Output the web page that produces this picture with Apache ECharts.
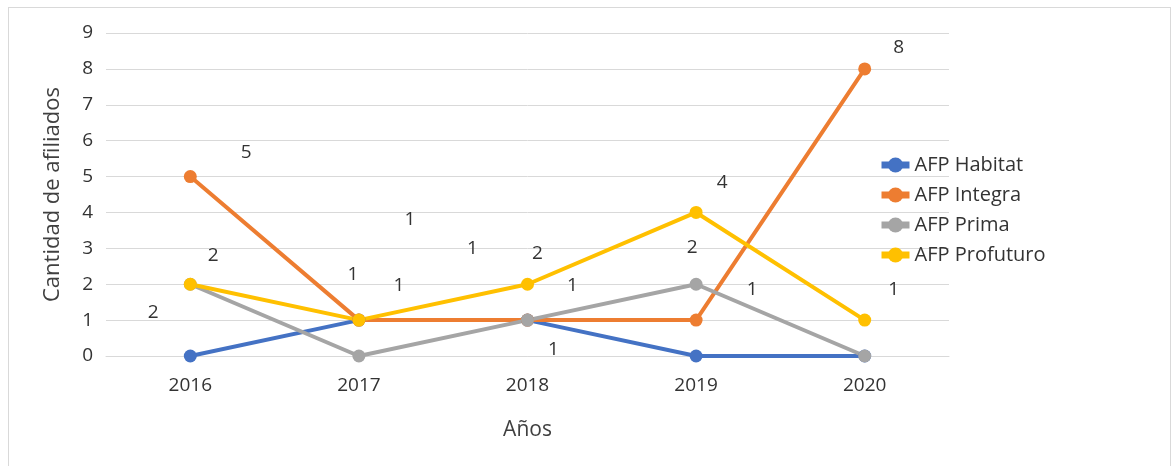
<!DOCTYPE html>
<html lang="es">
<head>
    <meta charset="UTF-8">
    <title>Afiliados por AFP</title>
    <script src="https://cdn.jsdelivr.net/npm/echarts@6/dist/echarts.min.js"></script>
    <style>
        body { margin: 0; background: #fff; }
        #frame { position: absolute; left: 8px; top: 7px; width: 1163px; height: 470px; border: 1px solid #d9d9d9; box-sizing: border-box; }
        #chart { position: absolute; left: 0; top: 0; width: 1175px; height: 466px; }
    </style>
</head>
<body>
<div id="frame"></div>
<div id="chart"></div>

<script type="text/javascript">
    // datos
    var years = ['2016', '2017', '2018', '2019', '2020'];
    var habitat = [0, 1, 1, 0, 0];
    var integra = [5, 1, 1, 1, 8];
    var prima = [2, 0, 1, 2, 0];
    var profuturo = [2, 1, 2, 4, 1];

    var font = 'Open Sans, Noto Sans, sans-serif';

    // the data labels were dragged around by hand in the original, so shift each one
    var labelShift = {
        'AFP Habitat':   [null, [-6, -46], [26, 29], null, null],
        'AFP Integra':   [[56, -24], [51, -101], [-55, -72], [56, -31], [34, -21]],
        'AFP Prima':     [[-37, 28], null, [45, -35], [-4, -37], null],
        'AFP Profuturo': [[23, -29], [40, -35], [10, -31], [26, -30], [29, -31]]
    };

    function makeSeries(name, values, color) {
        return {
            name: name,
            type: 'line',
            symbol: 'circle',
            symbolSize: 13,
            color: color,
            lineStyle: { width: 4, color: color },
            itemStyle: { color: color },
            data: values.map(function (v, i) {
                var shift = labelShift[name][i];
                return {
                    value: v,
                    label: {
                        show: v !== 0,
                        position: 'inside',
                        offset: shift || [0, 0],
                        color: '#333',
                        fontFamily: font,
                        fontSize: 19
                    }
                };
            })
        };
    }

    var myChart = echarts.init(document.getElementById('chart'));
    var option = {
        animation: false,
        textStyle: { fontFamily: font },
        grid: { left: 106, right: 226, top: 33, bottom: 110 },
        legend: {
            orient: 'vertical',
            left: 873,
            top: 150,
            itemWidth: 28,
            itemHeight: 19,
            itemGap: 10,
            lineStyle: { width: 7 },
            textStyle: { fontFamily: font, fontSize: 20, color: '#333' },
            data: ['AFP Habitat', 'AFP Integra', 'AFP Prima', 'AFP Profuturo']
        },
        xAxis: {
            type: 'category',
            data: years,
            boundaryGap: true,
            name: 'Años',
            nameLocation: 'middle',
            nameGap: 64,
            nameTextStyle: { fontSize: 21, color: '#404040', fontFamily: font },
            axisLine: { lineStyle: { color: '#d9d9d9' } },
            axisTick: { show: false },
            axisLabel: { color: '#333', fontSize: 19, margin: 20, fontFamily: font }
        },
        yAxis: {
            type: 'value',
            min: 0,
            max: 9,
            interval: 1,
            name: 'Cantidad de afiliados',
            nameLocation: 'middle',
            nameGap: 42,
            nameTextStyle: { fontSize: 22, color: '#404040', fontFamily: font },
            axisLine: { show: false },
            axisTick: { show: false },
            axisLabel: { color: '#333', fontSize: 19, margin: 13, fontFamily: font },
            splitLine: { lineStyle: { color: '#d9d9d9' } }
        },
        series: [
            makeSeries('AFP Habitat', habitat, '#4472C4'),
            makeSeries('AFP Integra', integra, '#ED7D31'),
            makeSeries('AFP Prima', prima, '#A5A5A5'),
            makeSeries('AFP Profuturo', profuturo, '#FFC000')
        ]
    };
    myChart.setOption(option);
</script>
</body>
</html>
